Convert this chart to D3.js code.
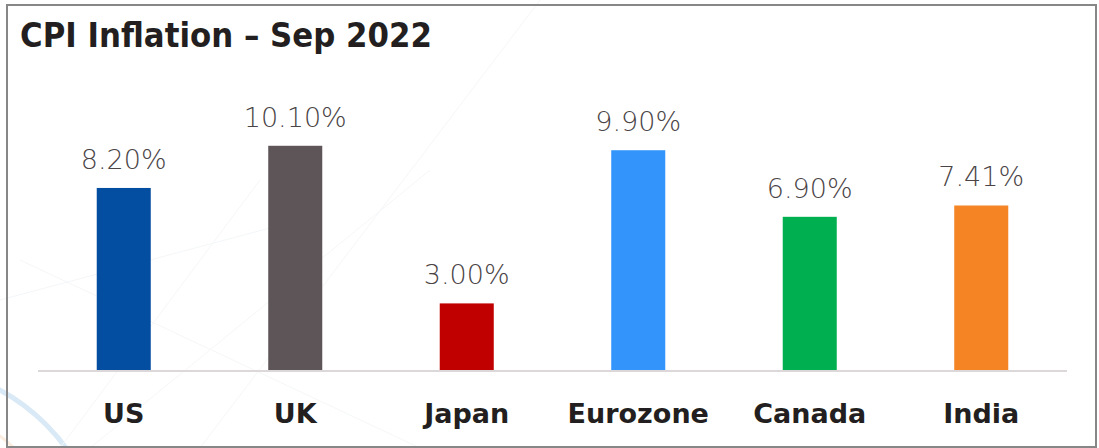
<!DOCTYPE html>
<html>
<head>
<meta charset="utf-8">
<script src="https://cdn.jsdelivr.net/npm/d3@7"></script>
<style>
  html, body { margin: 0; padding: 0; background: #ffffff; }
  svg { display: block; }
</style>
</head>
<body>
<svg id="chart" width="1099" height="448"></svg>
<script>
// CPI inflation, September 2022
const countries = ["US", "UK", "Japan", "Eurozone", "Canada", "India"];
const inflation = [8.20, 10.10, 3.00, 9.90, 6.90, 7.41];
const barColors = ["#044ea1", "#5e5558", "#c00000", "#3394fc", "#00b050", "#f48424"];
const titleText = "CPI Inflation \u2013 Sep 2022";

const svg = d3.select("#chart");

const rows = countries.map((c, i) => ({ country: c, value: inflation[i], color: barColors[i] }));

// faint background decoration
const deco = svg.append("g").attr("fill", "none");
deco.append("circle").attr("cx", -95).attr("cy", 565).attr("r", 199)
  .attr("stroke", "#d9e9f6").attr("stroke-width", 5);
deco.append("circle").attr("cx", -95).attr("cy", 565).attr("r", 160)
  .attr("stroke", "#fbeee0").attr("stroke-width", 3);
const faintLines = [[60, 448, 260, 180], [90, 448, 430, 170], [20, 260, 420, 448], [200, 448, 540, 0], [0, 300, 300, 220]];
faintLines.forEach(l => deco.append("line")
  .attr("x1", l[0]).attr("y1", l[1]).attr("x2", l[2]).attr("y2", l[3])
  .attr("stroke", "#f4f6f8").attr("stroke-width", 1));

// frame
svg.append("rect")
  .attr("x", 7).attr("y", 5).attr("width", 1089).attr("height", 442)
  .attr("fill", "none").attr("stroke", "#878787").attr("stroke-width", 2);

// title
svg.append("text")
  .attr("x", 20).attr("y", 47)
  .attr("font-family", "'Century Gothic', 'DejaVu Sans', sans-serif")
  .attr("font-weight", "bold").attr("font-size", 33)
  .attr("fill", "#231f20")
  .attr("textLength", 412).attr("lengthAdjust", "spacingAndGlyphs")
  .text(titleText);

// scales
const x = d3.scaleBand()
  .domain(countries)
  .range([38, 1067])
  .paddingInner(0.685)
  .paddingOuter(0.3425);

const y = d3.scaleLinear()
  .domain([0, 12])
  .range([370, 370 - 12 * 22.2]);

// bars
svg.append("g").selectAll("rect")
  .data(rows)
  .join("rect")
  .attr("x", d => x(d.country))
  .attr("y", d => y(d.value))
  .attr("width", x.bandwidth())
  .attr("height", d => y(0) - y(d.value))
  .attr("fill", d => d.color);

// baseline
svg.append("line")
  .attr("x1", 38).attr("x2", 1067)
  .attr("y1", y(0) + 1).attr("y2", y(0) + 1)
  .attr("stroke", "#dcd7d8").attr("stroke-width", 2);

// value labels
svg.append("g").selectAll("text")
  .data(rows)
  .join("text")
  .attr("x", d => x(d.country) + x.bandwidth() / 2)
  .attr("y", d => y(d.value) - 19)
  .attr("text-anchor", "middle")
  .attr("font-family", "'Century Gothic', 'DejaVu Sans', sans-serif")
  .attr("font-weight", 200)
  .attr("font-size", 27)
  .attr("fill", "#4a4446")
  .text(d => d.value.toFixed(2) + "%");

// category axis labels
const xAxis = d3.axisBottom(x).tickSize(0).tickPadding(0);
const axisG = svg.append("g")
  .attr("transform", `translate(0, ${y(0)})`)
  .call(xAxis);
axisG.select(".domain").remove();
axisG.selectAll("text")
  .attr("y", 53).attr("dy", 0)
  .attr("font-family", "'Century Gothic', 'DejaVu Sans', sans-serif")
  .attr("font-weight", "bold").attr("font-size", 27)
  .attr("fill", "#231f20");
</script>
</body>
</html>
